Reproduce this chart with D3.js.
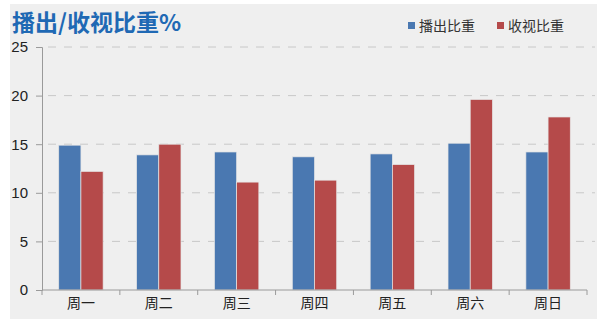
<!DOCTYPE html>
<html>
<head>
<meta charset="utf-8">
<script src="https://cdn.jsdelivr.net/npm/d3@7/dist/d3.min.js"></script>
<style>
  html, body { margin: 0; padding: 0; background: #ffffff; }
  svg { display: block; font-family: "Noto Sans CJK SC", "Noto Sans", sans-serif; }
</style>
</head>
<body>
<svg id="chart" width="600" height="322"></svg>
<script>
// Weekday categories and the two share series (%)
const days = ["周一", "周二", "周三", "周四", "周五", "周六", "周日"];
const seriesNames = ["播出比重", "收视比重"];
const broadcastShare = [14.9, 13.9, 14.2, 13.7, 14.0, 15.1, 14.2];
const viewingShare = [12.2, 15.0, 11.1, 11.3, 12.9, 19.6, 17.8];
const yTicks = [0, 5, 10, 15, 20, 25];
const title = "播出/收视比重%";

const colors = ["#4a78b1", "#b54a4a"];

const svg = d3.select("#chart");

// panel background
svg.append("rect")
  .attr("x", 10).attr("y", 4)
  .attr("width", 587).attr("height", 315)
  .attr("fill", "#efefef");

const margin = { left: 42, right: 587, top: 47, bottom: 290 };

const x0 = d3.scaleBand().domain(days).range([margin.left, margin.right]).padding(0);
const x1 = d3.scaleBand().domain(seriesNames).range([0, x0.bandwidth()])
  .paddingInner(0).paddingOuter(0.754);
const y = d3.scaleLinear().domain([0, 25]).range([margin.bottom, margin.top]);

// dashed gridlines
svg.append("g")
  .selectAll("line")
  .data(yTicks.filter(d => d > 0))
  .join("line")
  .attr("x1", margin.left).attr("x2", 595)
  .attr("y1", d => y(d)).attr("y2", d => y(d))
  .attr("stroke", "#c8c8c8")
  .attr("stroke-width", 1)
  .attr("stroke-dasharray", "8,8")
  .attr("stroke-dashoffset", -6);

// bars
const rows = days.map((d, i) => ({ day: d, values: [broadcastShare[i], viewingShare[i]] }));
svg.append("g")
  .selectAll("g")
  .data(rows)
  .join("g")
  .attr("transform", d => `translate(${x0(d.day)},0)`)
  .selectAll("rect")
  .data(d => d.values.map((v, j) => ({ key: seriesNames[j], value: v, j })))
  .join("rect")
  .attr("x", d => x1(d.key))
  .attr("y", d => y(d.value))
  .attr("width", x1.bandwidth())
  .attr("height", d => y(0) - y(d.value))
  .attr("fill", d => colors[d.j])
  .attr("stroke", "#e6e6e6")
  .attr("stroke-width", 0.7);

// y axis
const yAxis = d3.axisLeft(y).tickValues(yTicks).tickSize(6).tickPadding(8);
const yg = svg.append("g")
  .attr("transform", `translate(${margin.left},0)`)
  .call(yAxis);
yg.select(".domain").attr("stroke", "#9a9a9a");
yg.selectAll(".tick line").attr("stroke", "#9a9a9a");
yg.selectAll(".tick text")
  .attr("fill", "#222")
  .style("font-family", "Liberation Sans, Arial, sans-serif")
  .style("font-size", "15px");

// x axis with ticks at category boundaries
const xg = svg.append("g")
  .attr("transform", `translate(0,${margin.bottom})`);
xg.append("line")
  .attr("x1", margin.left).attr("x2", margin.right)
  .attr("stroke", "#9a9a9a");
xg.selectAll("line.tick")
  .data(days.concat(["end"]))
  .join("line")
  .attr("class", "tick")
  .attr("x1", (d, i) => i < days.length ? x0(d) : margin.right)
  .attr("x2", (d, i) => i < days.length ? x0(d) : margin.right)
  .attr("y1", 0).attr("y2", 5)
  .attr("stroke", "#9a9a9a");
xg.selectAll("text")
  .data(days)
  .join("text")
  .attr("x", d => x0(d) + x0.bandwidth() / 2)
  .attr("y", 18)
  .attr("text-anchor", "middle")
  .attr("fill", "#222")
  .style("font-size", "14px")
  .text(d => d);

// title
svg.append("text")
  .attr("x", 12).attr("y", 31)
  .attr("fill", "#1f69b4")
  .style("font-size", "23px")
  .style("font-weight", "bold")
  .text(title);

// legend
const legendX = [408, 497];
const legend = svg.append("g");
seriesNames.forEach((name, i) => {
  legend.append("rect")
    .attr("x", legendX[i]).attr("y", 22)
    .attr("width", 7).attr("height", 7)
    .attr("fill", colors[i]);
  legend.append("text")
    .attr("x", legendX[i] + 11).attr("y", 31)
    .attr("fill", "#333")
    .style("font-size", "14px")
    .text(name);
});
</script>
</body>
</html>
